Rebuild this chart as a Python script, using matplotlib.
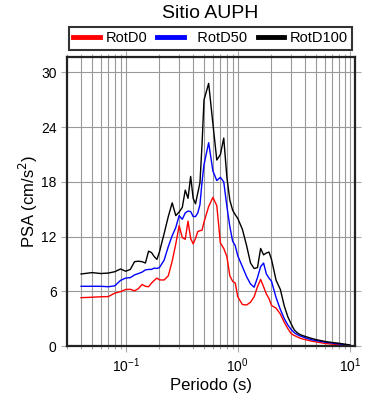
import matplotlib
matplotlib.use("Agg")
import matplotlib.pyplot as plt
from matplotlib.ticker import LogLocator, FixedLocator

plt.rcParams["font.family"] = ["Liberation Sans", "DejaVu Sans"]

# Spectral ordinates
periods = [0.04, 0.05, 0.06, 0.07, 0.08, 0.09, 0.10, 0.11, 0.12, 0.13, 0.14, 0.15,
           0.16, 0.17, 0.18, 0.19, 0.20, 0.22, 0.24, 0.26, 0.28, 0.30, 0.32, 0.34,
           0.36, 0.38, 0.40, 0.42, 0.44, 0.46, 0.48, 0.50, 0.55, 0.60, 0.65, 0.70,
           0.75, 0.80, 0.85, 0.90, 0.95, 1.0, 1.1, 1.2, 1.3, 1.4, 1.5, 1.6, 1.7,
           1.8, 1.9, 2.0, 2.2, 2.4, 2.6, 2.8, 3.0, 3.2, 3.4, 3.6, 4.0, 4.5, 5.0,
           6.0, 7.0, 8.0, 9.0, 10.0]

rotd0 = [5.3, 5.35, 5.4, 5.42, 5.8, 5.96, 6.2, 6.22, 6.05, 6.3, 6.75, 6.55,
         6.5, 6.9, 7.2, 7.45, 7.25, 7.24, 7.7, 9.3, 11.2, 13.2, 11.9, 11.7,
         13.7, 11.8, 11.2, 11.8, 12.55, 12.65, 12.7, 13.6, 15.3, 16.3, 15.4, 11.3,
         10.7, 9.8, 7.7, 7.1, 6.9, 5.4, 4.55, 4.5, 4.8, 5.4, 6.5, 7.3, 6.5,
         5.7, 5.2, 4.45, 4.15, 3.5, 2.6, 1.9, 1.35, 1.15, 1.0, 0.85, 0.7, 0.55, 0.45,
         0.28, 0.2, 0.15, 0.1, 0.05]

rotd50 = [6.55, 6.55, 6.55, 6.5, 6.6, 7.2, 7.45, 7.5, 7.8, 7.95, 8.1, 8.35,
          8.4, 8.4, 8.55, 8.5, 8.6, 9.4, 10.9, 12.1, 13.0, 14.3, 13.9, 14.6,
          14.8, 14.75, 14.2, 14.2, 14.6, 15.5, 18.0, 19.9, 22.3, 19.2, 18.15, 18.5,
          18.0, 15.3, 13.1, 11.5, 11.0, 9.9, 8.7, 7.6, 6.8, 6.45, 7.5, 8.7, 9.1,
          7.9, 7.45, 7.1, 5.3, 4.0, 3.0, 2.3, 1.8, 1.45, 1.25, 1.1, 0.9, 0.7, 0.6,
          0.42, 0.32, 0.23, 0.16, 0.1]

rotd100 = [7.9, 8.05, 7.95, 8.0, 8.15, 8.45, 8.2, 8.4, 9.25, 9.3, 9.25, 9.1,
           10.4, 10.25, 9.8, 9.5, 10.3, 12.3, 14.2, 15.7, 14.3, 14.7, 15.2, 17.1,
           16.2, 18.6, 16.2, 15.6, 16.8, 17.9, 22.1, 27.0, 28.8, 24.4, 20.4, 21.0,
           22.8, 18.5, 16.0, 14.9, 14.4, 14.0, 12.8, 11.0, 9.1, 8.5, 8.6, 10.7, 10.0,
           10.2, 10.3, 9.5, 7.2, 6.2, 4.4, 3.2, 2.4, 1.75, 1.45, 1.25, 1.05, 0.85, 0.7,
           0.5, 0.38, 0.3, 0.2, 0.12]

yticks = [0, 6, 12, 18, 24, 30]

fig = plt.figure(figsize=(3.9, 4.0), dpi=100)
ax = fig.add_axes([0.172, 0.135, 0.738, 0.7225])

ax.plot(periods, rotd0, color="#ff0000", lw=1.0, label="RotD0")
ax.plot(periods, rotd50, color="#0000ff", lw=1.0, label="  RotD50")
ax.plot(periods, rotd100, color="black", lw=1.0, label="RotD100")

ax.set_xscale("log")
ax.set_xlim(0.03, 11.1)
ax.set_ylim(0, 31.7)
ax.yaxis.set_major_locator(FixedLocator(yticks))
ax.xaxis.set_major_locator(LogLocator(base=10, numticks=10))
ax.xaxis.set_minor_locator(LogLocator(base=10, subs=range(2, 10), numticks=20))

ax.grid(True, which="both", axis="x", color="#999999", lw=0.8)
ax.grid(True, which="major", axis="y", color="#999999", lw=0.8)
ax.set_axisbelow(True)

for s in ax.spines.values():
    s.set_linewidth(1.6)
    s.set_color("#222222")

ax.tick_params(which="both", direction="out", color="#aaaaaa", top=True, right=True,
               labeltop=False, labelright=False, labelsize=10)
ax.tick_params(which="major", length=4, width=0.8)
ax.tick_params(which="minor", length=2.5, width=0.8)

ax.set_xlabel("Periodo (s)", fontsize=12, labelpad=2)
ax.set_ylabel("PSA (cm/s$^2$)", fontsize=12, labelpad=1)
fig.text(0.54, 0.965, "Sitio AUPH", ha="center", va="center", fontsize=14)

leg = fig.legend(loc="center", bbox_to_anchor=(0.54, 0.904), ncol=3, fontsize=10.5,
                 frameon=True, fancybox=False, handlelength=1.8, handletextpad=0.4,
                 columnspacing=0.7, borderpad=0.3, edgecolor="black")
leg.get_frame().set_linewidth(1.5)
for line in leg.get_lines():
    line.set_linewidth(3.5)

fig.savefig("out.png", dpi=100)
